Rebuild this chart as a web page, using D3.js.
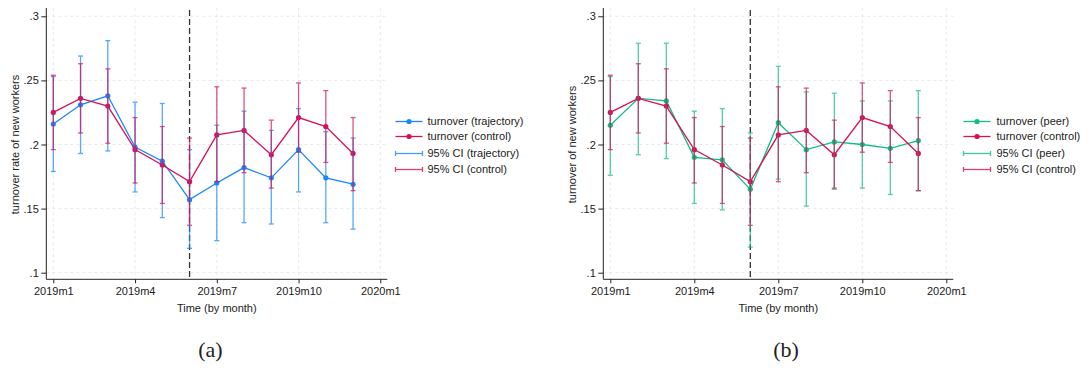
<!DOCTYPE html>
<html>
<head>
<meta charset="utf-8">
<script src="https://cdn.jsdelivr.net/npm/d3@7"></script>
<style>
  body { margin: 0; background: #fff; }
  svg text { font-family: "Liberation Sans", Arial, sans-serif; fill: #222; }
  .caption { font-family: "Liberation Serif", "Times New Roman", serif; }
</style>
</head>
<body>
<div id="chart"></div>
<script>
// month index 0 = 2019m1
const months = d3.range(12);
const xTickValues = [0, 3, 6, 9, 12];
const xTickLabels = ['2019m1', '2019m4', '2019m7', '2019m10', '2020m1'];
const yTickValues = [0.1, 0.15, 0.2, 0.25, 0.3];
const yTickLabels = ['.1', '.15', '.2', '.25', '.3'];
const treatMonth = 5; // 2019m6

const trajMean = [0.216, 0.231, 0.238, 0.198, 0.187, 0.157, 0.170, 0.182, 0.174, 0.196, 0.174, 0.169];
const trajLo   = [0.179, 0.193, 0.195, 0.163, 0.143, 0.119, 0.125, 0.139, 0.138, 0.163, 0.139, 0.134];
const trajHi   = [0.253, 0.269, 0.281, 0.233, 0.232, 0.196, 0.215, 0.226, 0.211, 0.228, 0.210, 0.205];

const ctrlMean = [0.225, 0.236, 0.230, 0.196, 0.184, 0.171, 0.2075, 0.211, 0.192, 0.221, 0.214, 0.193];
const ctrlLo   = [0.196, 0.209, 0.201, 0.170, 0.154, 0.137, 0.171, 0.178, 0.166, 0.194, 0.186, 0.164];
const ctrlHi   = [0.254, 0.263, 0.259, 0.221, 0.214, 0.205, 0.245, 0.244, 0.219, 0.248, 0.242, 0.221];

const peerMean = [0.215, 0.236, 0.234, 0.190, 0.188, 0.165, 0.217, 0.196, 0.202, 0.200, 0.197, 0.203];
const peerLo   = [0.176, 0.192, 0.189, 0.154, 0.149, 0.120, 0.173, 0.152, 0.165, 0.166, 0.161, 0.164];
const peerHi   = [0.253, 0.279, 0.279, 0.226, 0.228, 0.209, 0.261, 0.241, 0.240, 0.234, 0.234, 0.242];

const blue = '#1a85ff';
const red = '#d41159';
const green = '#0fbf7f';

const width = 1092;
const height = 368;

const svg = d3.select('#chart')
  .append('svg')
  .attr('width', width)
  .attr('height', height);

svg.append('rect')
  .attr('width', width)
  .attr('height', height)
  .attr('fill', '#fff');

function drawPanel(opts) {
  const x = d3.scaleLinear().domain([0, 12]).range([opts.x0, opts.x1]);
  const y = d3.scaleLinear().domain([0.1, 0.3]).range([272.7, 16.3]);
  const axisLeft = opts.x0 - 7;
  const axisRight = opts.x1 + 7;
  const axisBottom = 279.3;
  const top = 8;

  const g = svg.append('g');

  // dashed grid
  g.selectAll('.hgrid')
    .data(yTickValues)
    .enter()
    .append('line')
    .attr('x1', axisLeft)
    .attr('x2', axisRight)
    .attr('y1', d => y(d))
    .attr('y2', d => y(d))
    .attr('stroke', '#e3e3e3')
    .attr('stroke-width', 0.8)
    .attr('stroke-dasharray', '3,3');

  g.selectAll('.vgrid')
    .data(xTickValues)
    .enter()
    .append('line')
    .attr('x1', d => x(d))
    .attr('x2', d => x(d))
    .attr('y1', top)
    .attr('y2', axisBottom)
    .attr('stroke', '#e3e3e3')
    .attr('stroke-width', 0.8)
    .attr('stroke-dasharray', '3,3');

  // treatment line
  g.append('line')
    .attr('x1', x(treatMonth))
    .attr('x2', x(treatMonth))
    .attr('y1', top + 2)
    .attr('y2', axisBottom)
    .attr('stroke', '#333')
    .attr('stroke-width', 1.3)
    .attr('stroke-dasharray', '6,3');

  // axes
  const xAxis = d3.axisBottom(x)
    .tickValues(xTickValues)
    .tickFormat((d, i) => xTickLabels[i])
    .tickSize(4)
    .tickPadding(4);

  const xg = g.append('g')
    .attr('transform', `translate(0,${axisBottom})`)
    .call(xAxis);
  xg.select('.domain').remove();
  xg.append('line')
    .attr('x1', axisLeft)
    .attr('x2', axisRight)
    .attr('stroke', '#222');
  xg.selectAll('.tick line').attr('stroke', '#222');
  xg.selectAll('.tick text')
    .attr('fill', '#222')
    .style('font-size', '11px')
    .style('font-family', '"Liberation Sans", Arial, sans-serif');

  const yAxis = d3.axisLeft(y)
    .tickValues(yTickValues)
    .tickFormat((d, i) => yTickLabels[i])
    .tickSize(5)
    .tickPadding(2.5);

  const yg = g.append('g')
    .attr('transform', `translate(${axisLeft},0)`)
    .call(yAxis);
  yg.select('.domain').remove();
  yg.append('line')
    .attr('y1', top)
    .attr('y2', axisBottom)
    .attr('stroke', '#222');
  yg.selectAll('.tick line').attr('stroke', '#222');
  yg.selectAll('.tick text')
    .attr('fill', '#222')
    .style('font-size', '11px')
    .style('font-family', '"Liberation Sans", Arial, sans-serif');

  // axis titles
  g.append('text')
    .attr('x', (axisLeft + axisRight) / 2)
    .attr('y', 312)
    .attr('text-anchor', 'middle')
    .style('font-size', '11px')
    .text('Time (by month)');

  g.append('text')
    .attr('transform', `translate(${axisLeft - 27},${(y(0.1) + y(0.3)) / 2}) rotate(-90)`)
    .attr('text-anchor', 'middle')
    .style('font-size', '11px')
    .text(opts.yTitle);

  // mean lines with markers
  const line = d3.line()
    .x((d, i) => x(months[i]))
    .y(d => y(d));

  opts.series.forEach(s => {
    g.append('path')
      .datum(s.mean)
      .attr('d', line)
      .attr('fill', 'none')
      .attr('stroke', s.color)
      .attr('stroke-width', 1.3);

    g.selectAll(null)
      .data(s.mean)
      .enter()
      .append('circle')
      .attr('cx', (d, i) => x(months[i]))
      .attr('cy', d => y(d))
      .attr('r', 2.6)
      .attr('fill', s.color);
  });

  // confidence interval caps
  opts.series.forEach(s => {
    const ci = g.append('g').attr('opacity', 0.72);
    months.forEach(m => {
      const cx = x(m);
      ci.append('line')
        .attr('x1', cx).attr('x2', cx)
        .attr('y1', y(s.lo[m])).attr('y2', y(s.hi[m]))
        .attr('stroke', s.color).attr('stroke-width', 1.3);
      [s.lo[m], s.hi[m]].forEach(v => {
        ci.append('line')
          .attr('x1', cx - 2.5).attr('x2', cx + 2.5)
          .attr('y1', y(v)).attr('y2', y(v))
          .attr('stroke', s.color).attr('stroke-width', 1.3);
      });
    });
  });

  // legend
  const legend = g.append('g')
    .attr('transform', `translate(${opts.legendX},0)`);
  const legendRows = [121.5, 136.5, 153.5, 169.5];
  const items = [
    { label: `turnover (${opts.series[0].name})`, color: opts.series[0].color, type: 'line' },
    { label: 'turnover (control)', color: opts.series[1].color, type: 'line' },
    { label: `95% CI (${opts.series[0].name})`, color: opts.series[0].color, type: 'ci' },
    { label: '95% CI (control)', color: opts.series[1].color, type: 'ci' }
  ];
  items.forEach((it, i) => {
    const row = legend.append('g')
      .attr('transform', `translate(0,${legendRows[i]})`);
    if (it.type === 'line') {
      row.append('line')
        .attr('x1', 0).attr('x2', 27)
        .attr('stroke', it.color).attr('stroke-width', 1.3);
      row.append('circle')
        .attr('cx', 13.5).attr('r', 2.6)
        .attr('fill', it.color);
    } else {
      const c = row.append('g').attr('opacity', 0.8);
      c.append('line')
        .attr('x1', 0).attr('x2', 27)
        .attr('stroke', it.color).attr('stroke-width', 1.3);
      [0, 27].forEach(px => {
        c.append('line')
          .attr('x1', px).attr('x2', px)
          .attr('y1', -2.5).attr('y2', 2.5)
          .attr('stroke', it.color).attr('stroke-width', 1.3);
      });
    }
    row.append('text')
      .attr('x', opts.legendTextDx)
      .attr('dy', '0.35em')
      .style('font-size', '11px')
      .text(it.label);
  });

  // panel caption
  svg.append('text')
    .attr('class', 'caption')
    .attr('x', opts.captionX)
    .attr('y', 357)
    .attr('text-anchor', 'middle')
    .style('font-size', '22px')
    .style('font-family', '"Liberation Serif", "Times New Roman", serif')
    .text(opts.caption);
}

drawPanel({
  x0: 53.3,
  x1: 380.3,
  yTitle: 'turnover rate of new workers',
  series: [
    { name: 'trajectory', mean: trajMean, lo: trajLo, hi: trajHi, color: blue },
    { name: 'control', mean: ctrlMean, lo: ctrlLo, hi: ctrlHi, color: red }
  ],
  legendX: 395.5,
  legendTextDx: 32,
  caption: '(a)',
  captionX: 210.5
});

drawPanel({
  x0: 610.3,
  x1: 946.3,
  yTitle: 'turnover of new workers',
  series: [
    { name: 'peer', mean: peerMean, lo: peerLo, hi: peerHi, color: green },
    { name: 'control', mean: ctrlMean, lo: ctrlLo, hi: ctrlHi, color: red }
  ],
  legendX: 963.5,
  legendTextDx: 33,
  caption: '(b)',
  captionX: 786
});
</script>
</body>
</html>
